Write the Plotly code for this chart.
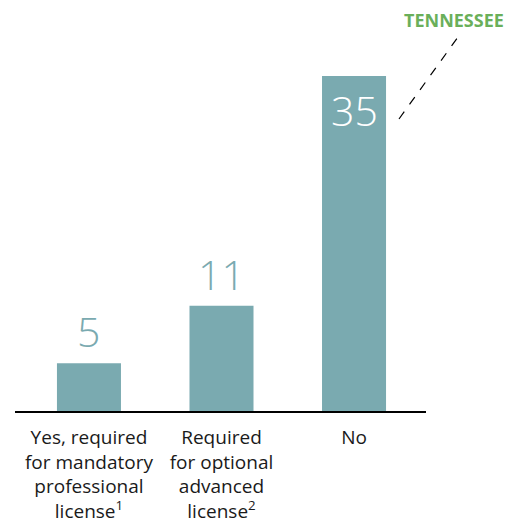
import plotly.graph_objects as go

categories = [
    "Yes, required<br>for mandatory<br>professional<br>license<sup>1</sup>",
    "Required<br>for optional<br>advanced<br>license<sup>2</sup>",
    "No",
]
values = [5, 11, 35]
value_labels = ["5", "11", "35"]
highlight_label = "TENNESSEE"

BAR = "#7AAAB0"
# page body has an 8px margin, so the figure is sized/offset accordingly
W, H = 511, 513
L, R, T, B = 7, 93, 12, 110

fig = go.Figure()
fig.add_trace(go.Bar(
    x=categories, y=values, marker=dict(color=BAR, line=dict(width=0)),
    width=0.483, hoverinfo="skip",
))

ymax = 40.85
for i, (c, v, t) in enumerate(zip(categories, values, value_labels)):
    inside = v == max(values)
    fig.add_annotation(
        x=c, y=v, xref="x", yref="y", text=t, showarrow=False,
        yanchor="top" if inside else "bottom",
        yshift=-4 if inside else 2,
        font=dict(family="Open Sans", size=41, color="white" if inside else BAR, weight=300),
    )

fig.add_annotation(
    x=1.068, y=1.0, xref="paper", yref="paper", text="<b>" + highlight_label + "</b>",
    showarrow=False, xanchor="center", yanchor="middle",
    font=dict(family="Open Sans", size=18, color="#6AAF5A"),
)
fig.add_shape(
    type="line", xref="paper", yref="paper",
    x0=0.9343, y0=0.7468, x1=1.0779, y1=0.9565,
    line=dict(color="black", width=1.2, dash="dash"),
)

fig.update_layout(
    width=W, height=H, margin=dict(l=L, r=R, t=T, b=B),
    paper_bgcolor="white", plot_bgcolor="white", showlegend=False,
    bargap=0.5,
    xaxis=dict(
        range=[-0.558, 2.543], showline=True, linecolor="black", linewidth=2,
        showgrid=False, zeroline=False, ticks="", ticklabelstandoff=8,
        automargin=False,
        tickfont=dict(family="Open Sans", size=19, color="#1a1a1a"),
    ),
    yaxis=dict(range=[0, ymax], visible=False, showgrid=False, zeroline=False,
               automargin=False),
)

fig.write_html("out.html")
